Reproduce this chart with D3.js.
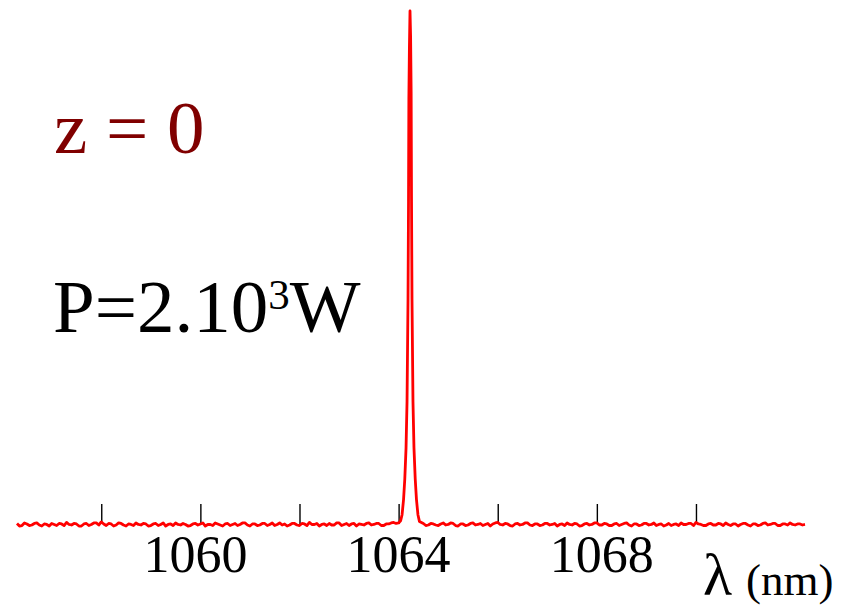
<!DOCTYPE html>
<html>
<head>
<meta charset="utf-8">
<script src="https://cdn.jsdelivr.net/npm/d3@7"></script>
<style>
  html, body { margin: 0; padding: 0; background: #fff; }
  svg { display: block; }
  text { font-family: "Liberation Serif", "Times New Roman", serif; }
</style>
</head>
<body>
<svg id="chart" width="852" height="606"></svg>
<script>
// ---- data ----
const tickValues = [1058, 1060, 1062, 1064, 1066, 1068, 1070];
const tickLabels = [1060, 1064, 1068];
const lambdaDomain = [1056.3, 1072.2];

// spectrum: wavelength (nm) and normalised intensity
const baselineLeft = [
  [1056.3,0.003],[1056.35,-0.002],[1056.4,-0.001],[1056.45,0.004],[1056.5,0.002],[1056.55,-0.001],[1056.6,0.000],[1056.65,0.003],[1056.7,0.004],[1056.75,0.000],[1056.8,-0.002],[1056.85,0.002],[1056.9,0.001],[1056.95,-0.002],
  [1057.0,0.003],[1057.05,0.001],[1057.1,-0.001],[1057.15,0.003],[1057.2,0.002],[1057.25,-0.001],[1057.3,0.005],[1057.35,0.001],[1057.4,0.000],[1057.45,0.003],[1057.5,0.002],[1057.55,-0.002],[1057.6,-0.002],[1057.65,0.002],
  [1057.7,0.003],[1057.75,-0.001],[1057.8,0.001],[1057.85,0.004],[1057.9,0.004],[1057.95,0.000],[1058.0,0.006],[1058.05,0.002],[1058.1,-0.001],[1058.15,0.003],[1058.2,0.002],[1058.25,-0.002],[1058.3,0.000],[1058.35,0.004],
  [1058.4,0.003],[1058.45,0.000],[1058.5,-0.002],[1058.55,0.002],[1058.6,0.001],[1058.65,-0.001],[1058.7,0.004],[1058.75,0.001],[1058.8,0.000],[1058.85,0.003],[1058.9,0.002],[1058.95,-0.002],[1059.0,-0.001],[1059.05,0.002],
  [1059.1,0.003],[1059.15,-0.001],[1059.2,0.001],[1059.25,0.004],[1059.3,-0.002],[1059.35,0.001],[1059.4,0.002],[1059.45,-0.001],[1059.5,0.004],[1059.55,0.001],[1059.6,0.000],[1059.65,0.003],[1059.7,0.001],[1059.75,-0.002],
  [1059.8,-0.001],[1059.85,0.002],[1059.9,0.003],[1059.95,0.000],[1060.0,0.002],[1060.05,0.004],[1060.1,-0.002],[1060.15,0.001],[1060.2,0.001],[1060.25,-0.001],[1060.3,0.004],[1060.35,0.002],[1060.4,0.000],[1060.45,-0.002],
  [1060.5,0.002],[1060.55,0.003],[1060.6,-0.001],[1060.65,0.001],[1060.7,0.003],[1060.75,-0.001],[1060.8,0.001],[1060.85,0.004],[1060.9,0.004],[1060.95,0.000],[1061.0,-0.002],[1061.05,0.002],[1061.1,0.002],[1061.15,-0.001],
  [1061.2,0.000],[1061.25,0.003],[1061.3,0.003],[1061.35,-0.001],[1061.4,0.001],[1061.45,0.004],[1061.5,-0.001],[1061.55,0.001],[1061.6,0.004],[1061.65,0.000],[1061.7,0.002],[1061.75,-0.002],[1061.8,0.000],[1061.85,0.003],
  [1061.9,0.003],[1061.95,0.000],[1062.0,-0.001],[1062.05,0.003],[1062.1,0.002],[1062.15,-0.001],[1062.2,0.005],[1062.25,0.001],[1062.3,0.001],[1062.35,0.003],[1062.4,-0.002],[1062.45,0.001],[1062.5,0.002],[1062.55,-0.001],
  [1062.6,0.003],[1062.65,0.000],[1062.7,0.000],[1062.75,0.004],[1062.8,0.004],[1062.85,-0.001],[1062.9,0.001],[1062.95,0.003],[1063.0,-0.001],[1063.05,0.002],[1063.1,0.003],[1063.15,-0.002],[1063.2,0.002],[1063.25,0.001],
  [1063.3,0.000],[1063.35,0.003],[1063.4,0.004],[1063.45,0.000],[1063.5,0.001],[1063.55,0.003],[1063.6,0.003],[1063.65,-0.001],[1063.7,-0.001],[1063.75,0.002],[1063.8,0.002],[1063.85,0.004],[1063.9,0.005],[1063.95,0.003],
  [1064.0,0.004]
];
const peak = [
  [1064.04,0.008],[1064.07,0.02],[1064.10,0.05],[1064.125,0.09],[1064.15,0.15],[1064.17,0.24],[1064.19,0.44],
  [1064.20,0.63],[1064.207,0.83],[1064.218,0.93],[1064.23,1.0],[1064.242,0.95],[1064.253,0.84],[1064.26,0.64],
  [1064.27,0.44],[1064.29,0.24],[1064.31,0.15],[1064.335,0.09],[1064.36,0.05],[1064.39,0.02],[1064.42,0.007]
];
const baselineRight = [
  [1064.5,0.003],[1064.55,-0.001],[1064.6,0.000],[1064.65,0.003],[1064.7,0.002],[1064.75,0.000],[1064.8,-0.001],[1064.85,0.002],[1064.9,0.004],[1064.95,0.000],[1065.0,0.001],[1065.05,0.004],[1065.1,0.003],[1065.15,-0.001],
  [1065.2,-0.002],[1065.25,0.002],[1065.3,0.002],[1065.35,-0.001],[1065.4,0.000],[1065.45,0.003],[1065.5,0.004],[1065.55,0.000],[1065.6,0.001],[1065.65,0.003],[1065.7,-0.001],[1065.75,0.001],[1065.8,0.003],[1065.85,-0.002],
  [1065.9,0.002],[1065.95,0.004],[1066.0,0.005],[1066.05,0.001],[1066.1,0.000],[1066.15,0.003],[1066.2,0.002],[1066.25,-0.001],[1066.3,-0.002],[1066.35,0.002],[1066.4,0.003],[1066.45,0.000],[1066.5,0.001],[1066.55,0.004],
  [1066.6,0.004],[1066.65,0.000],[1066.7,-0.001],[1066.75,0.002],[1066.8,0.002],[1066.85,-0.001],[1066.9,0.000],[1066.95,0.003],[1067.0,0.003],[1067.05,0.000],[1067.1,0.001],[1067.15,0.003],[1067.2,-0.002],[1067.25,0.001],
  [1067.3,0.002],[1067.35,-0.001],[1067.4,0.004],[1067.45,0.001],[1067.5,0.000],[1067.55,0.003],[1067.6,0.002],[1067.65,-0.002],[1067.7,-0.001],[1067.75,0.002],[1067.8,0.003],[1067.85,0.000],[1067.9,0.001],[1067.95,0.004],
  [1068.0,0.004],[1068.05,0.000],[1068.1,0.000],[1068.15,0.003],[1068.2,0.002],[1068.25,-0.001],[1068.3,-0.001],[1068.35,0.002],[1068.4,0.003],[1068.45,-0.001],[1068.5,0.001],[1068.55,0.003],[1068.6,0.004],[1068.65,0.000],
  [1068.7,-0.002],[1068.75,0.002],[1068.8,0.002],[1068.85,-0.001],[1068.9,0.000],[1068.95,0.003],[1069.0,0.003],[1069.05,0.000],[1069.1,0.001],[1069.15,0.004],[1069.2,-0.001],[1069.25,0.001],[1069.3,0.002],[1069.35,-0.002],
  [1069.4,0.000],[1069.45,0.003],[1069.5,-0.001],[1069.55,0.001],[1069.6,0.002],[1069.65,-0.001],[1069.7,0.004],[1069.75,0.001],[1069.8,0.001],[1069.85,0.003],[1069.9,0.003],[1069.95,-0.001],[1070.0,0.005],[1070.05,0.002],
  [1070.1,0.001],[1070.15,-0.001],[1070.2,-0.001],[1070.25,0.002],[1070.3,0.003],[1070.35,0.000],[1070.4,0.000],[1070.45,0.003],[1070.5,0.002],[1070.55,-0.001],[1070.6,0.004],[1070.65,0.001],[1070.7,-0.001],[1070.75,0.002],
  [1070.8,0.002],[1070.85,-0.002],[1070.9,0.001],[1070.95,0.003],[1071.0,0.003],[1071.05,0.000],[1071.1,-0.002],[1071.15,0.002],[1071.2,0.002],[1071.25,-0.001],[1071.3,0.000],[1071.35,0.003],[1071.4,0.004],[1071.45,0.000],
  [1071.5,0.001],[1071.55,0.003],[1071.6,0.003],[1071.65,-0.001],[1071.7,-0.001],[1071.75,0.002],[1071.8,0.002],[1071.85,0.000],[1071.9,0.004],[1071.95,0.001],[1072.0,0.000],[1072.05,0.002],[1072.1,0.002],[1072.15,0.000],
  [1072.2,0.001]
];
const spectrum = baselineLeft.concat(peak, baselineRight);

// ---- drawing ----
const svg = d3.select("#chart");
const x = d3.scaleLinear().domain(lambdaDomain).range([17, 805]);
const y = d3.scaleLinear().domain([0, 1]).range([525, 11]);

// ticks (upward, no axis line)
const axis = d3.axisTop(x).tickValues(tickValues).tickSize(20).tickFormat("");
const gAxis = svg.append("g").attr("transform", "translate(0,524)").call(axis);
gAxis.select(".domain").remove();
gAxis.selectAll(".tick line").attr("stroke", "#000").attr("stroke-width", 1.4);

// spectrum line
svg.append("path")
  .datum(spectrum)
  .attr("fill", "none")
  .attr("stroke", "#ff0000")
  .attr("stroke-width", 2.8)
  .attr("stroke-linejoin", "round")
  .attr("d", d3.line().x(d => x(d[0])).y(d => y(d[1])));

// tick labels
svg.append("g").selectAll("text")
  .data(tickLabels)
  .join("text")
  .attr("x", d => x(d) + (d - 1064) * 1.2)
  .attr("y", 572)
  .attr("text-anchor", "middle")
  .attr("font-size", 52)
  .attr("fill", "#000")
  .text(d => d);

// axis title
const title = svg.append("text").attr("x", 703).attr("y", 595).attr("fill", "#000");
title.append("tspan").attr("font-size", 60).text("λ");
title.append("tspan").attr("font-size", 45).attr("dx", 14).text("(nm)");

// annotations
svg.append("text")
  .attr("x", 54).attr("y", 153)
  .attr("font-size", 75)
  .attr("fill", "#800000")
  .text("z = 0");

const p = svg.append("text").attr("x", 53).attr("y", 332).attr("font-size", 75).attr("fill", "#000");
p.append("tspan").text("P=2.10");
p.append("tspan").attr("font-size", 43).attr("dy", -23).text("3");
p.append("tspan").attr("dy", 23).text("W");
</script>
</body>
</html>
